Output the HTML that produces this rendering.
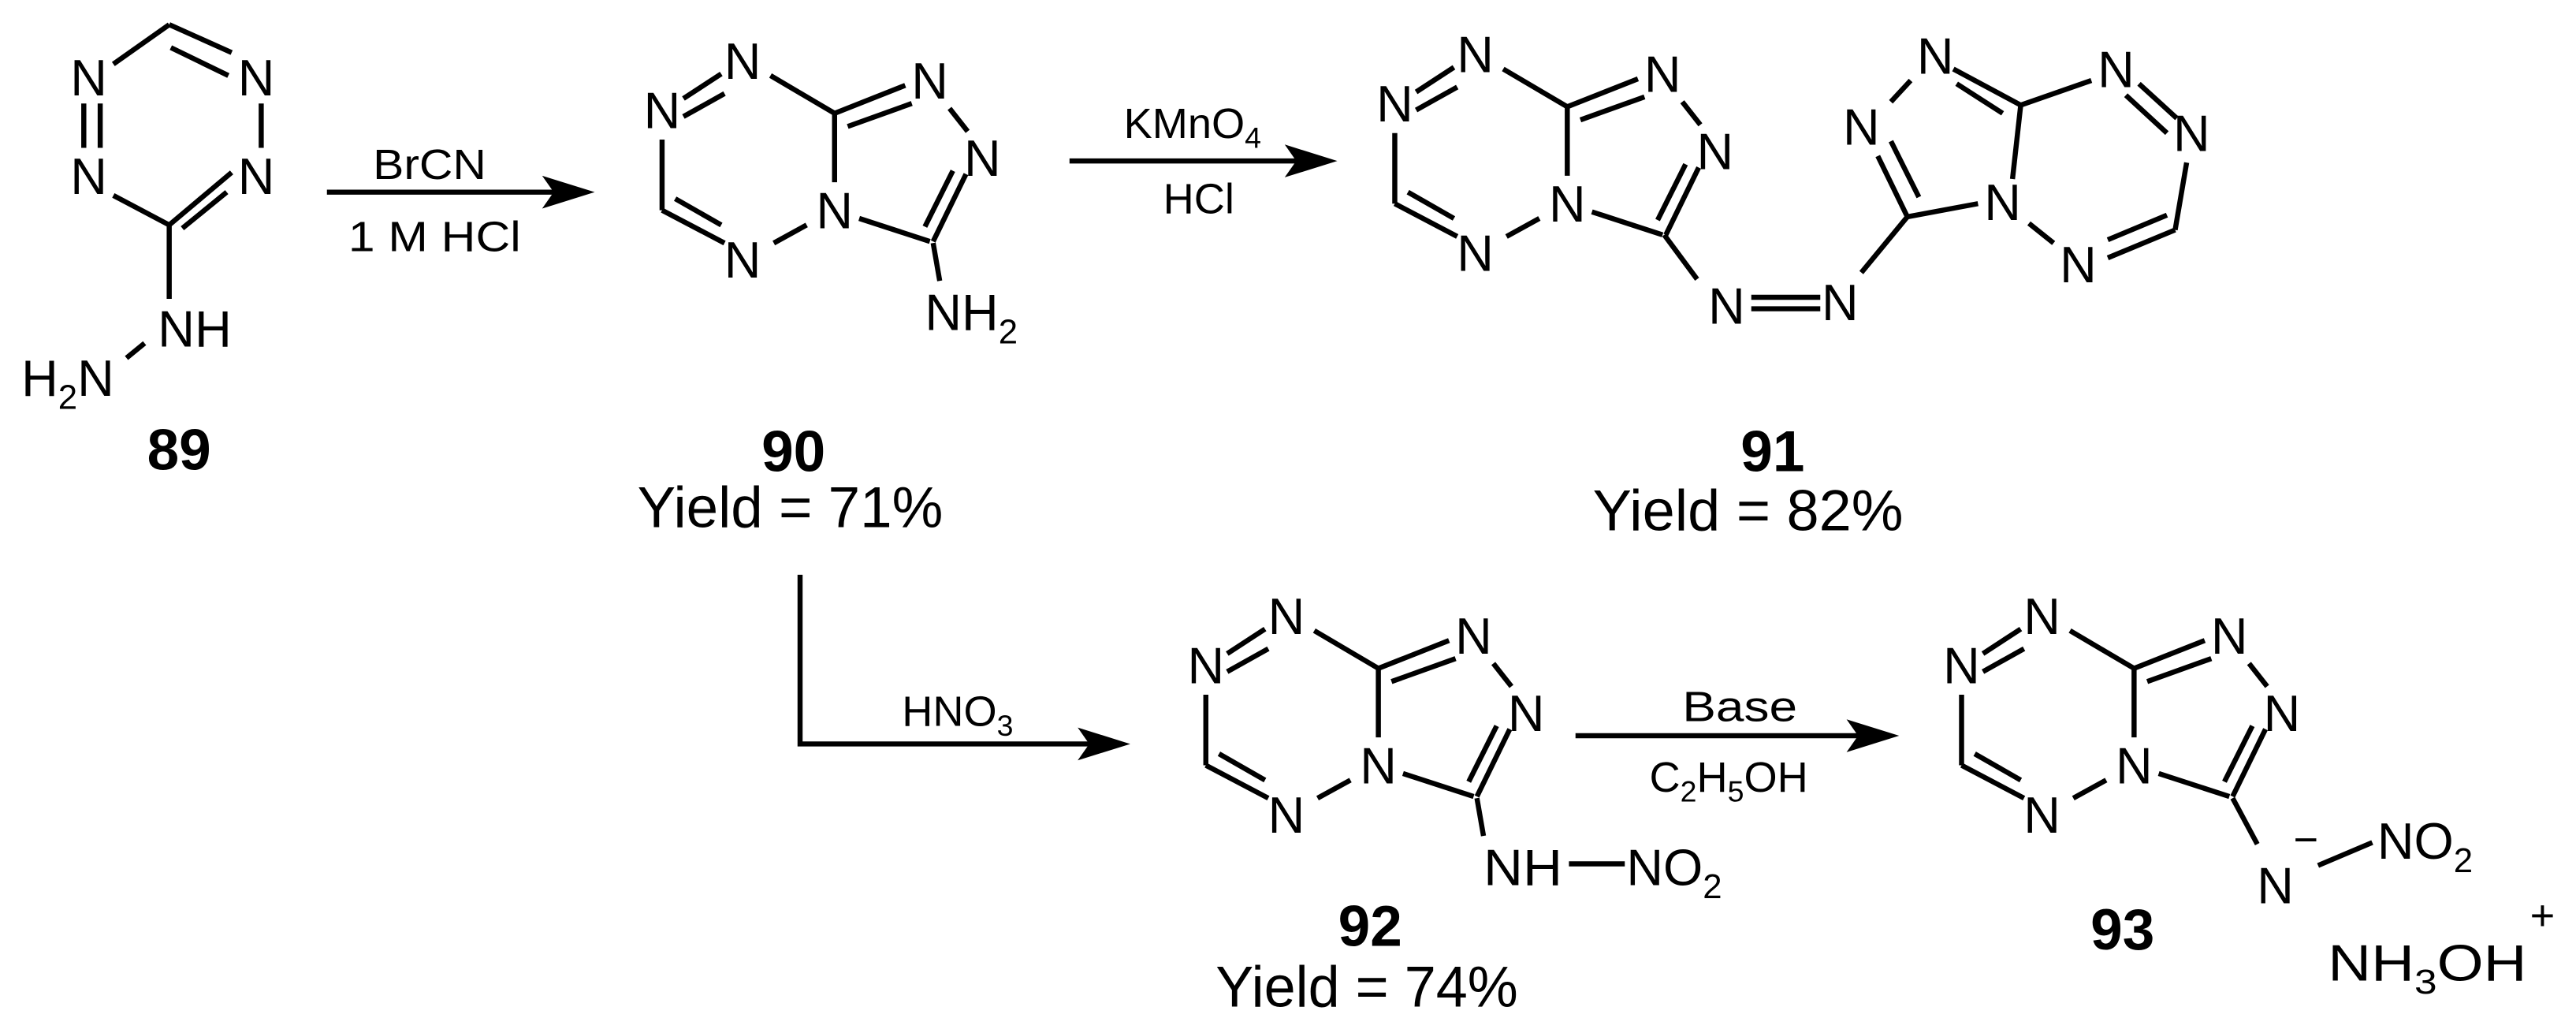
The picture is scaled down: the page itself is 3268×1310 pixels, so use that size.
<!DOCTYPE html>
<html><head><meta charset="utf-8"><style>
html,body{margin:0;padding:0;background:#fff;}
svg{display:block;}
text{font-family:"Liberation Sans",Arial,sans-serif;fill:#000;}
.a{font-size:31px;text-anchor:middle;}
.r{font-size:26px;}
.b{font-size:35px;font-weight:bold;text-anchor:middle;}
.y{font-size:35px;text-anchor:middle;}
line,polyline{stroke:#000;stroke-width:3.1;fill:none;stroke-linecap:butt;}
</style></head><body>
<svg width="3268" height="1310" viewBox="0 0 1568 629" preserveAspectRatio="none" xmlns="http://www.w3.org/2000/svg">
<!-- 89 -->
<g>
<line x1="69" y1="39" x2="103" y2="15"/>
<line x1="103" y1="15" x2="141" y2="32"/>
<line x1="104" y1="29" x2="139" y2="46"/>
<line x1="51" y1="63" x2="51" y2="90"/>
<line x1="61" y1="63" x2="61" y2="90"/>
<line x1="159" y1="63" x2="159" y2="90"/>
<line x1="141" y1="105" x2="103" y2="137"/>
<line x1="138" y1="117" x2="111" y2="139"/>
<line x1="69" y1="119" x2="103" y2="137"/>
<line x1="103" y1="137" x2="103" y2="182"/>
<line x1="88" y1="209" x2="77" y2="218"/>
<text class="a" x="54" y="58">N</text>
<text class="a" x="156" y="58">N</text>
<text class="a" x="54" y="118">N</text>
<text class="a" x="156" y="118">N</text>
<text class="a" x="96" y="211" style="text-anchor:start" textLength="45" lengthAdjust="spacingAndGlyphs">NH</text>
<text class="a" x="13" y="241" style="text-anchor:start">H<tspan font-size="21" dy="8">2</tspan><tspan dy="-8">N</tspan></text>
<text class="b" x="109" y="286">89</text>
</g>
<!-- arrow 1 -->
<line x1="199" y1="117" x2="345" y2="117"/>
<polygon points="362,117 330,107 337,117 330,127" fill="#000"/>
<text class="r" x="227" y="109" textLength="69" lengthAdjust="spacingAndGlyphs">BrCN</text>
<text class="r" x="212" y="153" textLength="105" lengthAdjust="spacingAndGlyphs">1 M HCl</text>

<!-- fused template 90 -->
<g>
<line x1="416" y1="60" x2="439" y2="45"/>
<line x1="416" y1="71" x2="441" y2="57"/>
<line x1="469" y1="46" x2="508" y2="69"/>
<line x1="508" y1="69" x2="551" y2="52"/>
<line x1="516" y1="77" x2="555" y2="63"/>
<line x1="578" y1="66" x2="589" y2="80"/>
<line x1="588" y1="106" x2="568" y2="147"/>
<line x1="580" y1="104" x2="563" y2="138"/>
<line x1="566" y1="147" x2="523" y2="133"/>
<line x1="508" y1="111" x2="508" y2="69"/>
<line x1="491" y1="137" x2="471" y2="148"/>
<line x1="441" y1="148" x2="403" y2="128"/>
<line x1="439" y1="137" x2="411" y2="121"/>
<line x1="403" y1="128" x2="403" y2="85"/>
<text class="a" x="452" y="48">N</text>
<text class="a" x="403" y="78">N</text>
<text class="a" x="452" y="169">N</text>
<text class="a" x="508" y="139">N</text>
<text class="a" x="566" y="60">N</text>
<text class="a" x="598" y="107">N</text>
</g>
<line x1="568" y1="148" x2="572" y2="171"/>
<text class="a" x="563" y="201" style="text-anchor:start">NH<tspan font-size="21" dy="8">2</tspan></text>
<text class="b" x="483" y="287">90</text>
<text class="y" x="481" y="321" textLength="186" lengthAdjust="spacingAndGlyphs">Yield = 71%</text>

<!-- arrow 2 -->
<line x1="651" y1="98" x2="797" y2="98"/>
<polygon points="814,98 782,88 789,98 782,108" fill="#000"/>
<text class="r" x="684" y="84">KMnO<tspan font-size="18" dy="6">4</tspan></text>
<text class="r" x="708" y="130">HCl</text>

<!-- 91 -->
<g transform="translate(446,-4)">
<line x1="416" y1="60" x2="439" y2="45"/>
<line x1="416" y1="71" x2="441" y2="57"/>
<line x1="469" y1="46" x2="508" y2="69"/>
<line x1="508" y1="69" x2="551" y2="52"/>
<line x1="516" y1="77" x2="555" y2="63"/>
<line x1="578" y1="66" x2="589" y2="80"/>
<line x1="588" y1="106" x2="568" y2="147"/>
<line x1="580" y1="104" x2="563" y2="138"/>
<line x1="566" y1="147" x2="523" y2="133"/>
<line x1="508" y1="111" x2="508" y2="69"/>
<line x1="491" y1="137" x2="471" y2="148"/>
<line x1="441" y1="148" x2="403" y2="128"/>
<line x1="439" y1="137" x2="411" y2="121"/>
<line x1="403" y1="128" x2="403" y2="85"/>
<text class="a" x="452" y="48">N</text>
<text class="a" x="403" y="78">N</text>
<text class="a" x="452" y="169">N</text>
<text class="a" x="508" y="139">N</text>
<text class="a" x="566" y="60">N</text>
<text class="a" x="598" y="107">N</text>
</g>
<line x1="1013" y1="143" x2="1033" y2="170"/>
<line x1="1066" y1="181" x2="1108" y2="181"/>
<line x1="1066" y1="188" x2="1108" y2="188"/>
<text class="a" x="1051" y="197">N</text>
<text class="a" x="1120" y="195">N</text>
<line x1="1133" y1="166" x2="1161" y2="132"/>
<line x1="1161" y1="132" x2="1143" y2="95"/>
<line x1="1168" y1="120" x2="1151" y2="86"/>
<line x1="1151" y1="62" x2="1163" y2="49"/>
<line x1="1189" y1="42" x2="1230" y2="64"/>
<line x1="1191" y1="51" x2="1219" y2="69"/>
<line x1="1230" y1="64" x2="1225" y2="109"/>
<line x1="1204" y1="124" x2="1161" y2="132"/>
<line x1="1230" y1="64" x2="1273" y2="49"/>
<line x1="1294" y1="58" x2="1319" y2="81"/>
<line x1="1302" y1="51" x2="1325" y2="72"/>
<line x1="1331" y1="99" x2="1324" y2="140"/>
<line x1="1324" y1="140" x2="1283" y2="157"/>
<line x1="1319" y1="131" x2="1283" y2="146"/>
<line x1="1250" y1="148" x2="1235" y2="136"/>
<text class="a" x="1133" y="88">N</text>
<text class="a" x="1178" y="45">N</text>
<text class="a" x="1219" y="134">N</text>
<text class="a" x="1288" y="53">N</text>
<text class="a" x="1334" y="92">N</text>
<text class="a" x="1265" y="172">N</text>
<text class="b" x="1079" y="287">91</text>
<text class="y" x="1064" y="323" textLength="189" lengthAdjust="spacingAndGlyphs">Yield = 82%</text>

<!-- HNO3 arrow -->
<polyline points="487,350 487,453 671,453"/>
<polygon points="688,453 656,443 663,453 656,463" fill="#000"/>
<text class="r" x="549" y="442">HNO<tspan font-size="18" dy="6">3</tspan></text>

<!-- 92 -->
<g transform="translate(331,338)">
<line x1="416" y1="60" x2="439" y2="45"/>
<line x1="416" y1="71" x2="441" y2="57"/>
<line x1="469" y1="46" x2="508" y2="69"/>
<line x1="508" y1="69" x2="551" y2="52"/>
<line x1="516" y1="77" x2="555" y2="63"/>
<line x1="578" y1="66" x2="589" y2="80"/>
<line x1="588" y1="106" x2="568" y2="147"/>
<line x1="580" y1="104" x2="563" y2="138"/>
<line x1="566" y1="147" x2="523" y2="133"/>
<line x1="508" y1="111" x2="508" y2="69"/>
<line x1="491" y1="137" x2="471" y2="148"/>
<line x1="441" y1="148" x2="403" y2="128"/>
<line x1="439" y1="137" x2="411" y2="121"/>
<line x1="403" y1="128" x2="403" y2="85"/>
<text class="a" x="452" y="48">N</text>
<text class="a" x="403" y="78">N</text>
<text class="a" x="452" y="169">N</text>
<text class="a" x="508" y="139">N</text>
<text class="a" x="566" y="60">N</text>
<text class="a" x="598" y="107">N</text>
<line x1="568" y1="148" x2="572" y2="171"/>
</g>
<text class="a" x="903" y="539" style="text-anchor:start" textLength="48" lengthAdjust="spacingAndGlyphs">NH</text>
<line x1="955" y1="526" x2="989" y2="526"/>
<text class="a" x="990" y="539" style="text-anchor:start">NO<tspan font-size="21" dy="8">2</tspan></text>
<text class="b" x="834" y="576">92</text>
<text class="y" x="832" y="613" textLength="184" lengthAdjust="spacingAndGlyphs">Yield = 74%</text>

<!-- Base arrow -->
<line x1="959" y1="448" x2="1139" y2="448"/>
<polygon points="1156,448 1124,438 1131,448 1124,458" fill="#000"/>
<text class="r" x="1024" y="439" textLength="70" lengthAdjust="spacingAndGlyphs">Base</text>
<text class="r" x="1004" y="482">C<tspan font-size="18" dy="6">2</tspan><tspan dy="-6">H</tspan><tspan font-size="18" dy="6">5</tspan><tspan dy="-6">OH</tspan></text>

<!-- 93 -->
<g transform="translate(791,338)">
<line x1="416" y1="60" x2="439" y2="45"/>
<line x1="416" y1="71" x2="441" y2="57"/>
<line x1="469" y1="46" x2="508" y2="69"/>
<line x1="508" y1="69" x2="551" y2="52"/>
<line x1="516" y1="77" x2="555" y2="63"/>
<line x1="578" y1="66" x2="589" y2="80"/>
<line x1="588" y1="106" x2="568" y2="147"/>
<line x1="580" y1="104" x2="563" y2="138"/>
<line x1="566" y1="147" x2="523" y2="133"/>
<line x1="508" y1="111" x2="508" y2="69"/>
<line x1="491" y1="137" x2="471" y2="148"/>
<line x1="441" y1="148" x2="403" y2="128"/>
<line x1="439" y1="137" x2="411" y2="121"/>
<line x1="403" y1="128" x2="403" y2="85"/>
<text class="a" x="452" y="48">N</text>
<text class="a" x="403" y="78">N</text>
<text class="a" x="452" y="169">N</text>
<text class="a" x="508" y="139">N</text>
<text class="a" x="566" y="60">N</text>
<text class="a" x="598" y="107">N</text>
</g>
<line x1="1359" y1="486" x2="1374" y2="514"/>
<text class="a" x="1385" y="550">N</text>
<text class="r" x="1396" y="520">−</text>
<line x1="1411" y1="527" x2="1444" y2="513"/>
<text class="a" x="1447" y="523" style="text-anchor:start">NO<tspan font-size="21" dy="8">2</tspan></text>
<text class="b" x="1292" y="578">93</text>
<text class="a" x="1417" y="597" style="text-anchor:start" textLength="121" lengthAdjust="spacingAndGlyphs">NH<tspan font-size="21" dy="8">3</tspan><tspan dy="-8">OH</tspan></text>
<text class="r" x="1540" y="566">+</text>
</svg>
</body></html>
